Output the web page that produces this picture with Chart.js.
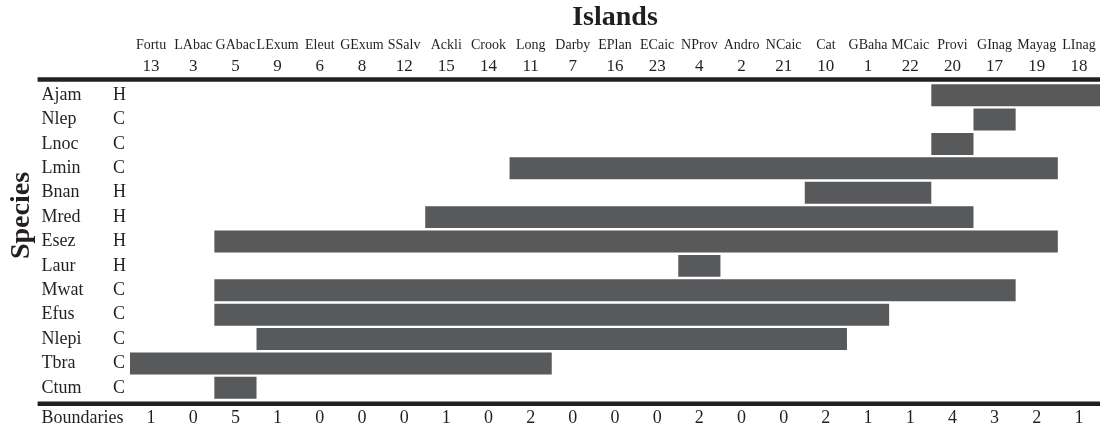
<!DOCTYPE html>
<html>
<head>
<meta charset="utf-8">
<script src="https://cdn.jsdelivr.net/npm/chart.js@4.4.1/dist/chart.umd.min.js"></script>
<style>
  html, body { margin: 0; padding: 0; background: #fff; }
  #wrap { width: 1100px; height: 431px; }
</style>
</head>
<body>
<div id="wrap"><canvas id="grafica"></canvas></div>
<script>
// Islas en el orden de las columnas
const islas = ['Fortu', 'LAbac', 'GAbac', 'LExum', 'Eleut', 'GExum', 'SSalv', 'Ackli', 'Crook', 'Long',
  'Darby', 'EPlan', 'ECaic', 'NProv', 'Andro', 'NCaic', 'Cat', 'GBaha', 'MCaic', 'Provi', 'GInag', 'Mayag', 'LInag'];
const numIsla = [13, 3, 5, 9, 6, 8, 12, 15, 14, 11, 7, 16, 23, 4, 2, 21, 10, 1, 22, 20, 17, 19, 18];
const fronteras = [1, 0, 5, 1, 0, 0, 0, 1, 0, 2, 0, 0, 0, 2, 0, 0, 2, 1, 1, 4, 3, 2, 1];

// Especies, tipo (H / C) y primera y ultima isla donde aparecen
const especies = ['Ajam', 'Nlep', 'Lnoc', 'Lmin', 'Bnan', 'Mred', 'Esez', 'Laur', 'Mwat', 'Efus', 'Nlepi', 'Tbra', 'Ctum'];
const tipo = ['H', 'C', 'C', 'C', 'H', 'H', 'H', 'H', 'C', 'C', 'C', 'C', 'C'];
const desde = ['Provi', 'GInag', 'Provi', 'Long', 'Cat', 'Ackli', 'GAbac', 'NProv', 'GAbac', 'GAbac', 'LExum', 'Fortu', 'GAbac'];
const hasta = ['LInag', 'GInag', 'Provi', 'Mayag', 'MCaic', 'Provi', 'Mayag', 'NProv', 'GInag', 'GBaha', 'Cat', 'Long', 'GAbac'];

const fuente = '"Liberation Serif", "Times New Roman", serif';
const tinta = '#231f20';

// cada barra cubre sus columnas completas
const rangos = especies.map((e, i) => [islas.indexOf(desde[i]) - 0.5, islas.indexOf(hasta[i]) + 0.5]);

// tamaño fijo para cada eje, sin relleno extra
function fijar(tam) {
  return (scale) => {
    if (scale.isHorizontal()) scale.height = tam;
    else scale.width = tam;
    scale.paddingLeft = 0;
    scale.paddingRight = 0;
    scale.paddingTop = 0;
    scale.paddingBottom = 0;
  };
}

function ejeTexto(extra) {
  return Object.assign({
    type: 'category',
    offset: true,
    grid: { display: false, drawTicks: false },
    border: { display: false },
  }, extra);
}

// lineas gruesas y la etiqueta de la fila de fronteras
const reglas = {
  id: 'reglas',
  afterDraw(chart) {
    const { ctx, chartArea } = chart;
    const x0 = chart.scales.y.left - 4;
    ctx.save();
    ctx.strokeStyle = tinta;
    ctx.lineWidth = 4.5;
    [chartArea.top - 3.5, chartArea.bottom + 3.8].forEach((y) => {
      ctx.beginPath();
      ctx.moveTo(x0, y);
      ctx.lineTo(chart.width, y);
      ctx.stroke();
    });
    const eje = chart.scales.xB;
    ctx.fillStyle = tinta;
    ctx.font = '18px ' + fuente;
    ctx.textAlign = 'left';
    ctx.textBaseline = 'middle';
    ctx.fillText('Boundaries', chart.scales.y.left, eje.top + 7 + 18 * 1.2 / 2);
    ctx.restore();
  },
};

const data = {
  labels: especies,
  datasets: [
    {
      label: 'Islas',
      data: rangos,
      backgroundColor: '#58595b',
      borderWidth: 0,
      borderSkipped: false,
      barPercentage: 0.9,
      categoryPercentage: 1,
      xAxisID: 'x',
      yAxisID: 'y',
    },
  ],
};

const config = {
  type: 'bar',
  data: data,
  plugins: [reglas],
  options: {
    indexAxis: 'y',
    responsive: true,
    maintainAspectRatio: false,
    animation: false,
    events: [],
    layout: { padding: 0 },
    plugins: {
      legend: { display: false },
      tooltip: { enabled: false },
      title: {
        display: true,
        text: 'Species',
        position: 'left',
        color: tinta,
        font: { family: fuente, size: 28, weight: 'bold' },
        padding: { top: 5, bottom: 3 },
      },
    },
    scales: {
      x: {
        type: 'linear',
        display: false,
        min: -0.5,
        max: islas.length - 0.5,
      },
      xName: ejeTexto({
        axis: 'x',
        position: 'top',
        weight: 1,
        labels: islas,
        ticks: { autoSkip: false, maxRotation: 0, minRotation: 0, padding: 2.5, color: tinta, font: { family: fuente, size: 14 } },
        title: {
          display: true,
          text: 'Islands',
          color: tinta,
          font: { family: fuente, size: 28, weight: 'bold' },
          padding: { top: 1, bottom: 0 },
        },
        afterFit: fijar(56),
      }),
      xNum: ejeTexto({
        axis: 'x',
        position: 'top',
        weight: 0,
        labels: numIsla.map(String),
        ticks: { autoSkip: false, maxRotation: 0, minRotation: 0, padding: 6.5, color: tinta, font: { family: fuente, size: 17 } },
        afterFit: fijar(27),
      }),
      xB: ejeTexto({
        axis: 'x',
        position: 'bottom',
        labels: fronteras.map(String),
        ticks: { autoSkip: false, maxRotation: 0, minRotation: 0, padding: 7, color: tinta, font: { family: fuente, size: 18 } },
        afterFit: fijar(31),
      }),
      y: ejeTexto({
        axis: 'y',
        position: 'left',
        weight: 1,
        ticks: { autoSkip: false, crossAlign: 'far', padding: 0, color: tinta, font: { family: fuente, size: 18 } },
        afterFit: fijar(71.4),
      }),
      yType: ejeTexto({
        axis: 'y',
        position: 'left',
        weight: 0,
        labels: tipo,
        ticks: { autoSkip: false, crossAlign: 'far', padding: 0, color: tinta, font: { family: fuente, size: 18 } },
        afterFit: fijar(17),
      }),
    },
  },
};

let grafica = new Chart(document.querySelector('#grafica'), config);
</script>
</body>
</html>
